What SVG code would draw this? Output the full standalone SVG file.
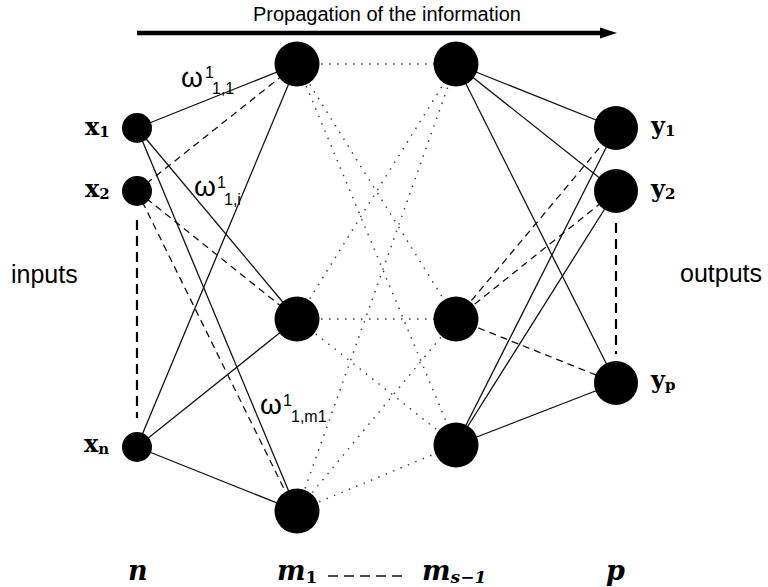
<svg xmlns="http://www.w3.org/2000/svg" width="768" height="587" viewBox="0 0 768 587">
<style>
.solid{stroke:#111;stroke-width:1.3;fill:none}
.dash{stroke:#111;stroke-width:1.3;stroke-dasharray:7 5;fill:none}
.dot{stroke:#444;stroke-width:1.5;stroke-dasharray:1.5 6.5;fill:none}
.vdash{stroke:#000;stroke-width:2.2;stroke-dasharray:10 6;fill:none}
.node{fill:#000}
.sans{font-family:"Liberation Sans",Arial,sans-serif;fill:#000}
.lbl{font-family:"DejaVu Serif","Liberation Serif",serif;font-weight:bold;fill:#000}
.ital{font-family:"DejaVu Serif","Liberation Serif",serif;font-weight:bold;font-style:italic;fill:#000}
</style>
<rect width="768" height="587" fill="#fff"/>
<g id="title">
<text class="sans" x="253" y="21" font-size="20">Propagation of the information</text>
<line x1="137" y1="33" x2="603" y2="33" stroke="#000" stroke-width="4.5"/>
<polygon points="600,27.5 617,33 600,38.5" fill="#000"/>
</g>
<g id="connectors">
<line class="solid" x1="137" y1="128" x2="297" y2="64"/>
<line class="solid" x1="137" y1="128" x2="297" y2="319"/>
<line class="solid" x1="137" y1="128" x2="297" y2="511"/>
<line class="dash" x1="137" y1="191" x2="297" y2="64"/>
<line class="dash" x1="137" y1="191" x2="297" y2="319"/>
<line class="dash" x1="137" y1="191" x2="292" y2="505"/>
<line class="solid" x1="137" y1="447" x2="297" y2="64"/>
<line class="solid" x1="137" y1="447" x2="297" y2="319"/>
<line class="solid" x1="137" y1="447" x2="297" y2="511"/>
<line class="dot" x1="297" y1="64" x2="456" y2="64"/>
<line class="dot" x1="297" y1="64" x2="456" y2="319"/>
<line class="dot" x1="297" y1="64" x2="456" y2="445"/>
<line class="dot" x1="297" y1="319" x2="456" y2="64"/>
<line class="dot" x1="297" y1="319" x2="456" y2="319"/>
<line class="dot" x1="297" y1="319" x2="456" y2="445"/>
<line class="dot" x1="297" y1="511" x2="456" y2="64"/>
<line class="dot" x1="297" y1="511" x2="456" y2="319"/>
<line class="dot" x1="297" y1="511" x2="456" y2="445"/>
<line class="solid" x1="456" y1="64" x2="616" y2="128"/>
<line class="solid" x1="456" y1="64" x2="616" y2="191"/>
<line class="solid" x1="456" y1="64" x2="616" y2="383"/>
<line class="dash" x1="456" y1="319" x2="616" y2="128"/>
<line class="dash" x1="456" y1="319" x2="616" y2="191"/>
<line class="dash" x1="456" y1="319" x2="616" y2="383"/>
<line class="solid" x1="456" y1="445" x2="616" y2="128"/>
<line class="solid" x1="456" y1="445" x2="616" y2="191"/>
<line class="solid" x1="456" y1="445" x2="616" y2="383"/>
<line class="vdash" x1="137" y1="220" x2="137" y2="418"/>
<line class="vdash" x1="616" y1="223" x2="616" y2="354"/>
<line class="solid" x1="328" y1="576" x2="405" y2="576" stroke-dasharray="10 6" stroke-width="1.6"/>
</g>
<g id="x1"><circle class="node" cx="137" cy="128" r="15"/><text class="lbl" x="85" y="135" font-size="24">x<tspan font-size="15" dy="2">1</tspan></text></g>
<g id="x2"><circle class="node" cx="137" cy="191" r="15"/><text class="lbl" x="85" y="197" font-size="24">x<tspan font-size="15" dy="2">2</tspan></text></g>
<g id="xn"><circle class="node" cx="137" cy="447" r="15"/><text class="lbl" x="84" y="452" font-size="24">x<tspan font-size="15" dy="2">n</tspan></text></g>
<g id="h1a"><circle class="node" cx="297" cy="64" r="22.5"/></g>
<g id="h1b"><circle class="node" cx="297" cy="319" r="22.5"/></g>
<g id="h1c"><circle class="node" cx="297" cy="511" r="22.5"/></g>
<g id="h2a"><circle class="node" cx="456" cy="64" r="22.5"/></g>
<g id="h2b"><circle class="node" cx="456" cy="319" r="22.5"/></g>
<g id="h2c"><circle class="node" cx="456" cy="445" r="22.5"/></g>
<g id="y1"><circle class="node" cx="616" cy="128" r="22"/><text class="lbl" x="651" y="134" font-size="24">y<tspan font-size="15" dy="2">1</tspan></text></g>
<g id="y2"><circle class="node" cx="616" cy="191" r="22"/><text class="lbl" x="651" y="197" font-size="24">y<tspan font-size="15" dy="2">2</tspan></text></g>
<g id="yp"><circle class="node" cx="616" cy="383" r="22"/><text class="lbl" x="651" y="388" font-size="24">y<tspan font-size="15" dy="2">p</tspan></text></g>
<g id="weights">
<text class="sans" x="181" y="87" font-size="28">ω</text>
<text class="sans" x="205" y="78" font-size="16">1</text>
<text class="sans" x="212" y="94" font-size="16">1,1</text>
<text class="sans" x="194" y="196" font-size="28">ω</text>
<text class="sans" x="217" y="188" font-size="16">1</text>
<text class="sans" x="224" y="205" font-size="16">1,i</text>
<text class="sans" x="260" y="414" font-size="28">ω</text>
<text class="sans" x="283" y="406" font-size="16">1</text>
<text class="sans" x="291" y="422" font-size="16">1,m1</text>
</g>
<g id="side-labels">
<text class="sans" x="11" y="283" font-size="25">inputs</text>
<text class="sans" x="680" y="282" font-size="25">outputs</text>
</g>
<g id="layer-labels">
<text class="ital" x="128" y="580" font-size="27">n</text>
<text class="ital" x="277" y="580" font-size="27">m<tspan class="lbl" font-style="normal" font-size="17" dy="3">1</tspan></text>
<text class="ital" x="422" y="580" font-size="27">m<tspan font-size="17" dy="3">s−1</tspan></text>
<text class="ital" x="606" y="580" font-size="27">p</text>
</g>
</svg>
